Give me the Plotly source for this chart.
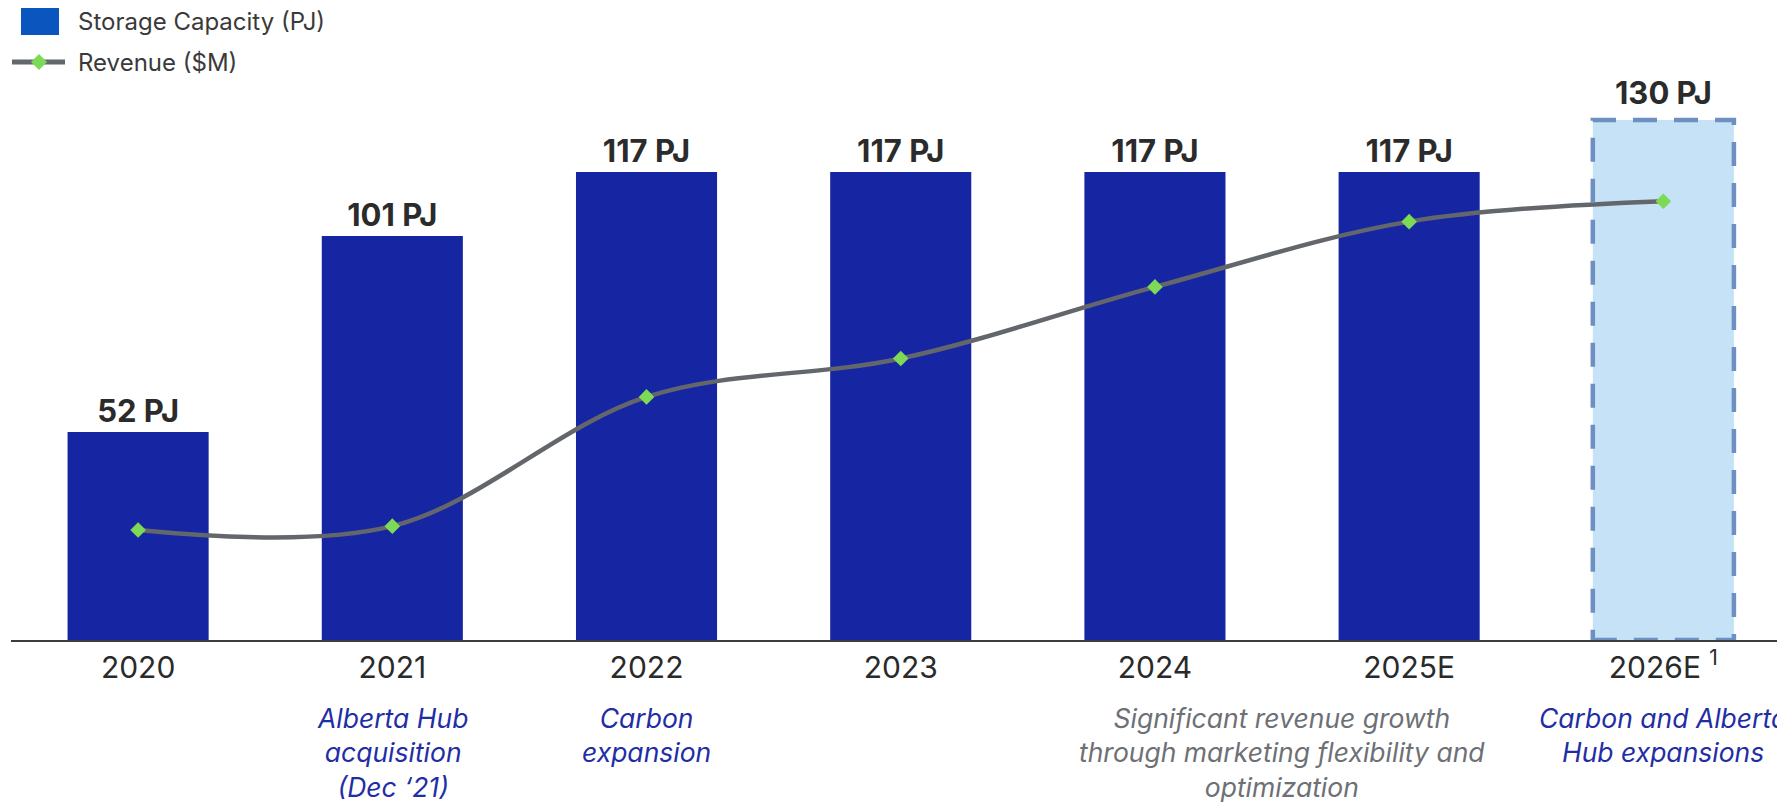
import plotly.graph_objects as go

# ---------------- data ----------------
years = ["2020", "2021", "2022", "2023", "2024", "2025E", "2026E"]
tick_labels = ["2020", "2021", "2022", "2023", "2024", "2025E", "2026E <sup>1</sup>"]
capacity_pj = [52, 101, 117, 117, 117, 117, 130]
revenue_musd = [86, 89, 190, 220, 276, 327, 343]

note_positions = [1, 2, 4.5, 6]
note_texts = [
    "Alberta Hub<br>acquisition<br>(Dec \u201821)",
    "Carbon<br>expansion",
    "Significant revenue growth<br>through marketing flexibility and<br>optimization",
    "Carbon and Alberta<br>Hub expansions",
]
note_colors = ["#1f2ea5", "#1f2ea5", "#6d7075", "#1f2ea5"]

legend_labels = ["Storage Capacity (PJ)", "Revenue ($M)"]

# ---------------- style ----------------
W, H = 1785, 803
ML, MR, MT, MB = 3, 0, 0, 171
PW, PH = W - ML - MR, H - MT - MB
BAR_W = 0.555
BAR_COLOR = "#1626A2"
EST_FILL = "#C5E2F6"
EST_LINE = "#6E8FC2"
LINE_COLOR = "#63666A"
MARK_COLOR = "#7ED957"
FONT = "Inter"
LABEL_FONT = dict(family=FONT, size=31, color="#2b2b2b", weight="bold")


def px_x(px):
    return (px - ML) / PW


def px_y(py):
    return (H - MB - py) / PH


est_idx = years.index("2026E")
bar_colors = [EST_FILL if y == "2026E" else BAR_COLOR for y in years]
bar_text = ["" if y == "2026E" else "%{y} PJ" for y in years]

fig = go.Figure()
fig.add_trace(go.Bar(
    x=years, y=capacity_pj, width=BAR_W,
    marker=dict(color=bar_colors, line=dict(width=0)),
    texttemplate=bar_text, textposition="outside",
    textfont=LABEL_FONT,
    cliponaxis=False, showlegend=False, name=legend_labels[0],
))
fig.add_trace(go.Scatter(
    x=years, y=revenue_musd, yaxis="y2", mode="lines+markers",
    line=dict(color=LINE_COLOR, width=4.5, shape="spline", smoothing=1),
    marker=dict(symbol="diamond", size=12, color=MARK_COLOR),
    cliponaxis=False, showlegend=False, name=legend_labels[1],
))

shapes = [
    # dashed outline on estimate bar
    dict(type="rect", xref="x", yref="y",
         x0=est_idx - BAR_W / 2, x1=est_idx + BAR_W / 2,
         y0=0, y1=capacity_pj[est_idx],
         line=dict(color=EST_LINE, width=4.5, dash="24px,17px"),
         fillcolor="rgba(0,0,0,0)", layer="above"),
    # legend: bar swatch
    dict(type="rect", xref="paper", yref="paper",
         x0=px_x(13), x1=px_x(51), y0=px_y(27), y1=px_y(0),
         fillcolor="#0B55BF", line=dict(width=0)),
    # legend: line
    dict(type="line", xref="paper", yref="paper",
         x0=px_x(4), x1=px_x(57), y0=px_y(54), y1=px_y(54),
         line=dict(color=LINE_COLOR, width=5)),
    # legend: diamond
    dict(type="path", xref="paper", yref="paper",
         path=(f"M {px_x(23)},{px_y(54)} L {px_x(31)},{px_y(46)} "
               f"L {px_x(39)},{px_y(54)} L {px_x(31)},{px_y(62)} Z"),
         fillcolor=MARK_COLOR, line=dict(width=0)),
]

annotations = []
# label of the estimate bar (sits a little higher because of the dashed frame)
annotations.append(dict(
    text=f"{capacity_pj[est_idx]} PJ", xref="x", yref="y",
    x=est_idx, y=capacity_pj[est_idx], xanchor="center", yanchor="bottom",
    yshift=7, showarrow=False, font=LABEL_FONT))

for lbl, py in zip(legend_labels, [13, 54]):
    annotations.append(dict(
        text=lbl, xref="paper", yref="paper", x=px_x(68), y=px_y(py),
        xanchor="left", yanchor="middle", showarrow=False,
        font=dict(family=FONT, size=24, color="#3a3a3a")))

for xp, txt, col in zip(note_positions, note_texts, note_colors):
    annotations.append(dict(
        text=f"<i>{txt}</i>", xref="x", yref="paper", x=xp, y=px_y(692),
        xanchor="center", yanchor="top", showarrow=False, align="center",
        font=dict(family=FONT, size=26.5, color=col)))

fig.update_layout(
    width=W, height=H,
    margin=dict(l=ML, r=MR, t=MT, b=MB),
    paper_bgcolor="white", plot_bgcolor="white",
    barmode="overlay",
    showlegend=False,
    xaxis=dict(type="category", range=[-0.5, 6.51],
               tickmode="array", tickvals=years, ticktext=tick_labels,
               showline=True, linecolor="#3c3c3c", linewidth=2,
               showgrid=False, zeroline=False, ticks="",
               tickfont=dict(family=FONT, size=30, color="#2a2a2a")),
    yaxis=dict(range=[0, 158], visible=False, showgrid=False, zeroline=False),
    yaxis2=dict(range=[0, 494], overlaying="y", visible=False,
                showgrid=False, zeroline=False),
    shapes=shapes,
    annotations=annotations,
)

fig.write_html("out.html")
